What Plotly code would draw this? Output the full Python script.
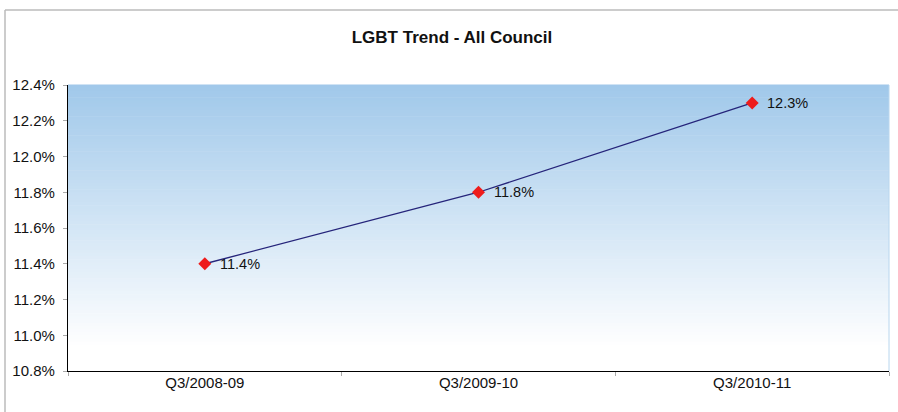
import plotly.graph_objects as go

categories = ["Q3/2008-09", "Q3/2009-10", "Q3/2010-11"]
values = [11.4, 11.8, 12.3]
labels = ["11.4%", "11.8%", "12.3%"]
title_text = "LGBT Trend - All Council"

W, H = 898, 412
L, R, T, B = 68, 9, 85, 41
pw, ph = W - L - R, H - T - B
FONT = "Liberation Sans, Arial, sans-serif"

def px(x):
    return (x - L) / pw

def py(y):
    return (H - B - y) / ph

xs = list(range(len(categories)))

fig = go.Figure()
fig.add_trace(go.Scatter(
    x=xs, y=values, mode="lines+markers",
    line=dict(color="#25247A", width=1.3),
    marker=dict(symbol="diamond", size=10, color="#EE1C1C"),
    cliponaxis=False, showlegend=False,
))

annotations = [dict(x=x, y=v, text=t, xref="x", yref="y", showarrow=False,
                    xanchor="left", yanchor="middle", xshift=13,
                    font=dict(family=FONT, size=14.5, color="#111111"))
               for x, v, t in zip(xs, values, labels)]

shapes = []
n = 90
top = (160, 200, 234)
for i in range(n):
    f0 = i / n
    f1 = (i + 1) / n
    t = min(1.0, (f0 + 0.5 / n) / 0.92)
    c = tuple(round(top[k] + (255 - top[k]) * t) for k in range(3))
    shapes.append(dict(type="rect", xref="paper", yref="paper",
                       x0=0, x1=1, y0=1 - f1, y1=1 - f0 + 0.002,
                       fillcolor="rgb(%d,%d,%d)" % c, line=dict(width=0), layer="below"))
shapes.append(dict(type="line", xref="paper", yref="paper", x0=1, x1=1, y0=0, y1=1,
                   line=dict(color="#B8D6EE", width=1), layer="below"))
shapes.append(dict(type="line", xref="paper", yref="paper", x0=px(5), x1=px(900),
                   y0=py(10), y1=py(10), line=dict(color="#BBBBBB", width=1.5)))
shapes.append(dict(type="line", xref="paper", yref="paper", x0=px(5), x1=px(5),
                   y0=py(10), y1=py(415), line=dict(color="#BBBBBB", width=1.5)))

fig.update_layout(
    width=W, height=H,
    margin=dict(l=L, r=R, t=T, b=B, autoexpand=False),
    paper_bgcolor="white", plot_bgcolor="rgba(0,0,0,0)",
    font=dict(family=FONT, size=15, color="#111111"),
    title=dict(text="<b>" + title_text + "</b>", x=452 / W, xref="container", y=1 - 37 / H,
               yanchor="middle", xanchor="center", font=dict(size=17, color="#111111")),
    shapes=shapes,
    annotations=annotations,
    xaxis=dict(range=[-0.5, len(categories) - 0.5], tickmode="array",
               tickvals=xs, ticktext=categories,
               ticks="", showgrid=False, zeroline=False, showline=True,
               linecolor="black", linewidth=1.3, fixedrange=True,
               minor=dict(tickmode="array", tickvals=[-0.5, 0.5, 1.5, 2.5],
                          ticks="outside", ticklen=4, tickcolor="#AAAAAA"),
               ticklabelstandoff=-2, automargin=False),
    yaxis=dict(range=[10.8, 12.4], dtick=0.2, tick0=10.8, tickformat=".1f", ticksuffix="%",
               ticks="outside", ticklen=4, tickcolor="#AAAAAA", showgrid=False,
               zeroline=False, showline=True, linecolor="black", linewidth=1.3,
               ticklabelstandoff=5, automargin=False, fixedrange=True),
)

fig.write_html("out.html", config={"displayModeBar": False},
               post_script="document.body.style.margin='0';")
